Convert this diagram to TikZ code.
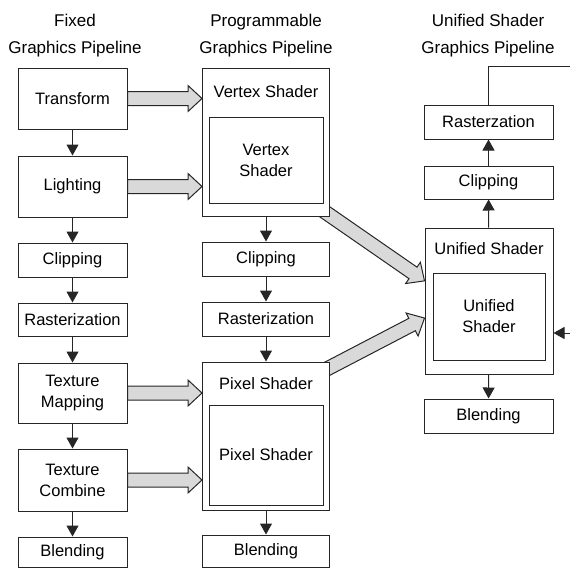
\documentclass[tikz,border=0pt]{standalone}
\usepackage{fontspec}
\setmainfont{Liberation Sans}
\usetikzlibrary{arrows.meta,calc}
\pgfdeclarelayer{bg}
\pgfsetlayers{bg,main}
\tikzset{
  box/.style={draw=black!85, line width=1pt, fill=white, inner sep=0pt, align=center,
    font=\fontsize{16.5}{21}\selectfont},
  txt/.style={inner sep=0pt, align=center, font=\fontsize{16.5}{21}\selectfont},
  title/.style={inner sep=0pt, anchor=base, font=\fontsize{17}{21}\selectfont},
  conn/.style={draw=black!85, line width=1pt, -{Triangle[length=11pt,width=12pt]}},
  plain/.style={draw=black!85, line width=1pt},
  fat/.style={draw=black!85, line width=1pt, fill=black!15, line join=miter},
}
\newcommand\fatarrow[2]{%
  \draw[fat] let \p1=#1, \p2=#2,
    \n1={atan2(\y2-\y1,\x2-\x1)}, \n2={veclen(\x2-\x1,\y2-\y1)} in
    ($(\p1)+(\n1+90:7pt)$) -- ($(\p1)+(\n1:\n2-14pt)+(\n1+90:7pt)$)
    -- ($(\p1)+(\n1:\n2-14pt)+(\n1+90:13pt)$) -- (\p2)
    -- ($(\p1)+(\n1:\n2-14pt)+(\n1-90:13pt)$) -- ($(\p1)+(\n1:\n2-14pt)+(\n1-90:7pt)$)
    -- ($(\p1)+(\n1-90:7pt)$) -- cycle;}
\begin{document}
\begin{tikzpicture}[x=1pt,y=-1pt]
\useasboundingbox (0,0) rectangle (570,568);

% titles
\node[title] (t1a) at (75,26) {Fixed};
\node[title] (t1b) at (75,53) {Graphics Pipeline};
\node[title] (t2a) at (266,26) {Programmable};
\node[title] (t2b) at (266,53) {Graphics Pipeline};
\node[title] (t3a) at (488,26) {Unified Shader};
\node[title] (t3b) at (488,53) {Graphics Pipeline};

% left column
\node[box, minimum width=109, minimum height=61] (transform) at (72.5,98.5) {Transform};
\node[box, minimum width=109, minimum height=61] (lighting) at (72.5,186.5) {Lighting};
\node[box, minimum width=109, minimum height=34] (clip1) at (72.5,260) {Clipping};
\node[box, minimum width=109, minimum height=33] (rast1) at (72.5,319.5) {Rasterization};
\node[box, minimum width=109, minimum height=60] (texmap) at (72.5,393) {Texture\\Mapping};
\node[box, minimum width=109, minimum height=62] (texcomb) at (72.5,480) {Texture\\Combine};
\node[box, minimum width=109, minimum height=30] (blend1) at (72.5,552) {Blending};

% middle column
\node[box, minimum width=127, minimum height=148] (vs) at (266,142) {};
\node[txt] (vslabel) at (266,92) {Vertex Shader};
\node[box, minimum width=114, minimum height=86] (vsin) at (266,160) {Vertex\\Shader};
\node[box, minimum width=127, minimum height=34] (clip2) at (266,259) {Clipping};
\node[box, minimum width=127, minimum height=34] (rast2) at (266,319) {Rasterization};
\node[box, minimum width=127, minimum height=148] (ps) at (266,436) {};
\node[txt] (pslabel) at (266,384) {Pixel Shader};
\node[box, minimum width=114, minimum height=100] (psin) at (266,455) {Pixel Shader};
\node[box, minimum width=127, minimum height=32] (blend2) at (266,551) {Blending};

% right column
\node[box, minimum width=129, minimum height=34] (rast3) at (488.5,122) {Rasterzation};
\node[box, minimum width=129, minimum height=33] (clip3) at (488.5,182.5) {Clipping};
\node[box, minimum width=128, minimum height=146] (us) at (489,301) {};
\node[txt] (uslabel) at (489,249) {Unified Shader};
\node[box, minimum width=112, minimum height=87] (usin) at (489,316.5) {Unified\\Shader};
\node[box, minimum width=129, minimum height=34] (blend3) at (488.5,416) {Blending};

% thin connectors
\draw[conn] (transform) -- (lighting);
\draw[conn] (lighting) -- (clip1);
\draw[conn] (clip1) -- (rast1);
\draw[conn] (rast1) -- (texmap);
\draw[conn] (texmap) -- (texcomb);
\draw[conn] (texcomb) -- (blend1);
\draw[conn] (vs) -- (clip2);
\draw[conn] (clip2) -- (rast2);
\draw[conn] (rast2) -- (ps);
\draw[conn] (ps) -- (blend2);
\draw[conn] (us) -- (clip3);
\draw[conn] (clip3) -- (rast3);
\draw[conn] (us) -- (blend3);
\coordinate (topend) at (570,66);
\draw[plain] (rast3.north) |- (topend);
\coordinate (rin) at (570,333);
\draw[conn] (rin) -- (rin -| us.east);

% wide grey arrows
\begin{pgfonlayer}{bg}
\fatarrow{(transform.east)}{(transform.east -| vs.west)}
\fatarrow{(lighting.east)}{(lighting.east -| vs.west)}
\fatarrow{(texmap.east)}{(texmap.east -| ps.west)}
\fatarrow{(texcomb.east)}{(texcomb.east -| ps.west)}
\fatarrow{($(vs.south east)+(-10,-8)$)}{($(us.north west)!0.363!(us.south west)$)}
\fatarrow{($(ps.north east)+(-8,10)$)}{($(us.north west)!0.616!(us.south west)$)}
\end{pgfonlayer}
\end{tikzpicture}
\end{document}
